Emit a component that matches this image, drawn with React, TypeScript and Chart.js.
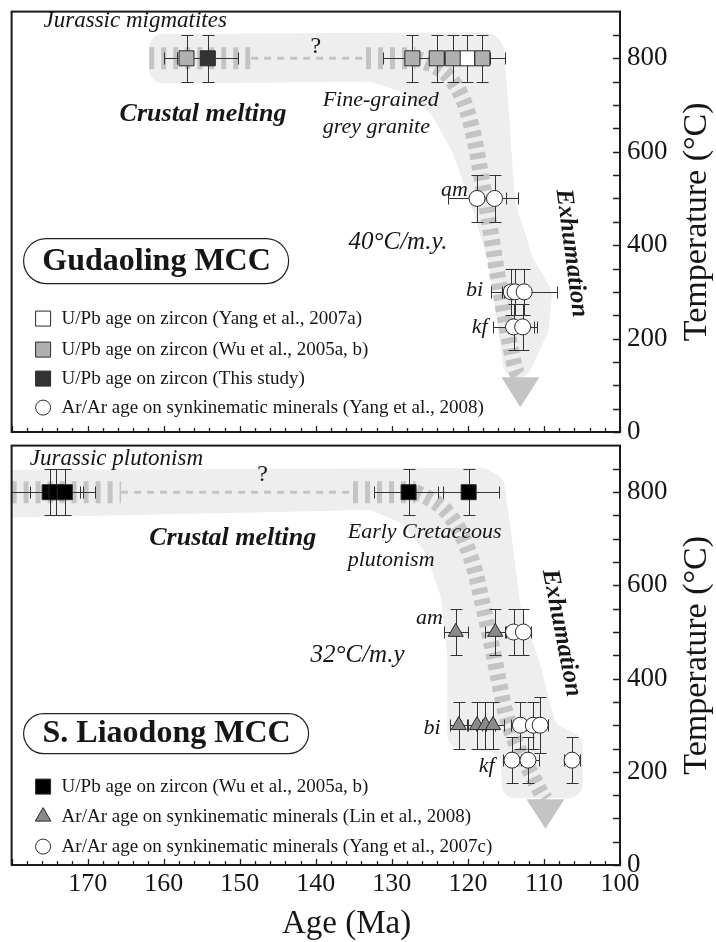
import React, { useEffect, useRef } from 'react';
import { Chart, registerables } from 'chart.js';

Chart.register(...registerables);

const SERIF = '"Liberation Serif", "Times New Roman", Times, serif';
const INK = '#161616';
const BAND = '#eeeeee';
const DASH = '#c4c4c4';
const EDGE = '#2a2a2a';

// ---------------- shared axes ----------------
const AGE_MIN = 100;
const AGE_MAX = 180;
const TEMP_MIN = 0;
const TEMP_MAX = 900;
const ageTickLabels = [170, 160, 150, 140, 130, 120, 110, 100];
const tempTickLabels = [0, 200, 400, 600, 800];
const ageTitle = 'Age (Ma)';
const tempTitle = 'Temperature (°C)';

// ---------------- Gudaoling MCC ----------------
const gudWuZrAge = [157.0, 127.3, 124.1, 122.0, 118.1];
const gudWuZrAgeErr = [3, 3.8, 3, 3, 3];
const gudWuZrTemp = [800, 800, 800, 800, 800];
const gudWuZrTempErr = [50, 50, 50, 50, 50];

const gudYangZrAge = [120.1];
const gudYangZrAgeErr = [3];
const gudYangZrTemp = [800];
const gudYangZrTempErr = [50];

const gudThisZrAge = [154.2];
const gudThisZrAgeErr = [4];
const gudThisZrTemp = [800];
const gudThisZrTempErr = [50];

const gudArAge = [118.8, 116.5, 114.3, 113.8, 112.6, 114.0, 112.8];
const gudArAgeErr = [3.8, 3.1, 1.2, 1.5, 4.3, 2.7, 1.9];
const gudArTemp = [500, 500, 300, 300, 300, 225, 225];
const gudArTempErr = [50, 50, 50, 50, 50, 50, 50];

// shaded P-T-t envelope and dashed cooling path (age, temperature)
const gudBandAge = [161.9, 117.0, 115.3, 114.7, 113.8, 111.5, 108.9, 109.4, 112.1, 115.1, 116.0, 117.3, 119.7, 122.0, 124.9, 128.9, 132.8, 161.9];
const gudBandTemp = [852, 856, 831, 704, 492, 375, 301, 216, 121, 110, 216, 365, 492, 598, 683, 729, 750, 746];
const gudThickAge = [161.9, 148.5];
const gudThickTemp = [800, 800];
const gudThinAge = [148.5, 133.4];
const gudThinTemp = [800, 800];
const gudFlatAge = [133.4, 126.9];
const gudFlatTemp = [800, 800];
const gudDescAge = [126.9, 123.9, 121.6, 120.1, 119.0, 118.1, 117.0, 116.0, 114.8, 113.8, 113.1];
const gudDescTemp = [800, 784, 746, 693, 619, 534, 428, 322, 216, 131, 117];
const gudArrowAge = [113.1, 113.1];
const gudArrowTemp = [117, 53];

// ---------------- S. Liaodong MCC ----------------
const liaWuZrAge = [175.0, 174.1, 173.0, 127.8, 119.9];
const liaWuZrAgeErr = [6, 3.5, 2, 4.5, 4];
const liaWuZrTemp = [800, 800, 800, 800, 800];
const liaWuZrTempErr = [50, 50, 50, 50, 50];

const liaLinArAge = [121.6, 116.4, 121.2, 118.8, 117.7, 116.7];
const liaLinArAgeErr = [1.6, 1.3, 1.1, 1.2, 1.2, 1.4];
const liaLinArTemp = [500, 500, 300, 300, 300, 300];
const liaLinArTempErr = [50, 50, 50, 50, 50, 50];

const liaYangArAge = [114.0, 112.7, 113.1, 111.4, 110.5, 114.2, 112.1, 106.3];
const liaYangArAgeErr = [1.0, 1.0, 1.2, 1.0, 1.0, 1.2, 1.5, 1.1];
const liaYangArTemp = [500, 500, 300, 300, 300, 225, 225, 225];
const liaYangArTempErr = [50, 50, 50, 50, 60, 50, 50, 50];

const liaBandAge = [181, 117.7, 115.3, 114.4, 113.1, 110.5, 108.5, 104.9, 104.9, 115.5, 115.7, 122.7, 122.7, 123.6, 125.6, 128.9, 132.8, 181];
const liaBandTemp = [848, 852, 829, 724, 557, 431, 304, 273, 143, 143, 241, 252, 451, 577, 672, 735, 762, 745];
const liaThickAge = [180, 165.6];
const liaThickTemp = [800, 800];
const liaThinAge = [165.6, 135.1];
const liaThinTemp = [800, 800];
const liaFlatAge = [135.1, 126.9];
const liaFlatTemp = [800, 800];
const liaDescAge = [126.9, 124.3, 122.0, 120.3, 119.0, 118.0, 117.0, 116.1, 115.1, 113.8, 112.1, 110.5, 109.8];
const liaDescTemp = [800, 783, 745, 693, 630, 556, 483, 409, 325, 262, 210, 157, 141];
const liaArrowAge = [109.8, 109.8];
const liaArrowTemp = [141, 78];

// ---------------- helpers ----------------
const font = (style: string, size: number) => `${style} ${size}px ${SERIF}`;

function drawMarker(ctx: any, shape: string, x: number, y: number, r: number, fill: string) {
  ctx.beginPath();
  if (shape === 'rect') {
    const s = r * Math.SQRT1_2;
    ctx.rect(x - s, y - s, 2 * s, 2 * s);
  } else if (shape === 'triangle') {
    ctx.moveTo(x, y - r);
    ctx.lineTo(x + 0.866 * r, y + 0.5 * r);
    ctx.lineTo(x - 0.866 * r, y + 0.5 * r);
    ctx.closePath();
  } else {
    ctx.arc(x, y, r, 0, Math.PI * 2);
  }
  ctx.fillStyle = fill;
  ctx.fill();
  ctx.lineWidth = 1;
  ctx.strokeStyle = EDGE;
  ctx.stroke();
}

function roundedPolygon(ctx: any, xs: number[], ys: number[], r: number) {
  const n = xs.length;
  const mx = (i: number, j: number) => (xs[i] + xs[j]) / 2;
  const my = (i: number, j: number) => (ys[i] + ys[j]) / 2;
  ctx.beginPath();
  ctx.moveTo(mx(n - 1, 0), my(n - 1, 0));
  for (let i = 0; i < n; i++) {
    const j = (i + 1) % n;
    ctx.arcTo(xs[i], ys[i], mx(i, j), my(i, j), r);
  }
  ctx.closePath();
}

function strokePath(ctx: any, xs: number[], ys: number[], smooth: boolean) {
  const n = xs.length;
  ctx.beginPath();
  ctx.moveTo(xs[0], ys[0]);
  if (!smooth || n < 3) {
    for (let i = 1; i < n; i++) ctx.lineTo(xs[i], ys[i]);
  } else {
    for (let i = 1; i < n - 1; i++) {
      ctx.quadraticCurveTo(xs[i], ys[i], (xs[i] + xs[i + 1]) / 2, (ys[i] + ys[i + 1]) / 2);
    }
    ctx.lineTo(xs[n - 1], ys[n - 1]);
  }
  ctx.stroke();
}

type Series = {
  label: string;
  shape: string;
  radius: number;
  fill: string;
  age: number[];
  ageErr: number[];
  temp: number[];
  tempErr: number[];
};

type TextItem = { text: string; age: number; temp: number; style: string; size: number; align: string; rot?: number };

const gudPanel = {
  name: 'Gudaoling MCC',
  series: [
    { label: 'U/Pb age on zircon (Wu et al., 2005a, b)', shape: 'rect', radius: 10.6, fill: '#b0b0b0', age: gudWuZrAge, ageErr: gudWuZrAgeErr, temp: gudWuZrTemp, tempErr: gudWuZrTempErr },
    { label: 'U/Pb age on zircon (Yang et al., 2007a)', shape: 'rect', radius: 10.6, fill: '#ffffff', age: gudYangZrAge, ageErr: gudYangZrAgeErr, temp: gudYangZrTemp, tempErr: gudYangZrTempErr },
    { label: 'U/Pb age on zircon (This study)', shape: 'rect', radius: 10.6, fill: '#333333', age: gudThisZrAge, ageErr: gudThisZrAgeErr, temp: gudThisZrTemp, tempErr: gudThisZrTempErr },
    { label: 'Ar/Ar age on synkinematic minerals (Yang et al., 2008)', shape: 'circle', radius: 8, fill: '#ffffff', age: gudArAge, ageErr: gudArAgeErr, temp: gudArTemp, tempErr: gudArTempErr },
  ] as Series[],
  legendOrder: [1, 0, 2, 3],
  band: [gudBandAge, gudBandTemp],
  thick: [gudThickAge, gudThickTemp],
  thin: [gudThinAge, gudThinTemp],
  flat: [gudFlatAge, gudFlatTemp],
  desc: [gudDescAge, gudDescTemp],
  arrow: [gudArrowAge, gudArrowTemp],
  texts: [
    { text: 'Jurassic migmatites', age: 175.8, temp: 880, style: 'italic', size: 23, align: 'left' },
    { text: '?', age: 140.0, temp: 825, style: '', size: 24, align: 'center' },
    { text: 'Crustal melting', age: 165.8, temp: 681, style: 'italic bold', size: 26, align: 'left' },
    { text: 'Fine-grained', age: 139.1, temp: 711, style: 'italic', size: 22, align: 'left' },
    { text: 'grey granite', age: 139.1, temp: 652, style: 'italic', size: 22, align: 'left' },
    { text: 'am', age: 120.0, temp: 518, style: 'italic', size: 22, align: 'right' },
    { text: 'bi', age: 118.0, temp: 303, style: 'italic', size: 22, align: 'right' },
    { text: 'kf', age: 117.4, temp: 224, style: 'italic', size: 22, align: 'right' },
    { text: '40°C/m.y.', age: 135.7, temp: 406, style: 'italic', size: 25, align: 'left' },
    { text: 'Exhumation', age: 106.4, temp: 383, style: 'italic bold', size: 25, align: 'center', rot: 82.5 },
  ] as TextItem[],
  pill: { dx: 12, dy: 227, w: 265, h: 45, tx: 145, ty: 250 },
  legendRows: [307, 338, 367, 396],
  padTop: 8,
  padBottom: 18,
  xAxisH: 0,
  showAge: false,
};

const liaPanel = {
  name: 'S. Liaodong MCC',
  series: [
    { label: 'U/Pb age on zircon (Wu et al., 2005a, b)', shape: 'rect', radius: 10.6, fill: '#000000', age: liaWuZrAge, ageErr: liaWuZrAgeErr, temp: liaWuZrTemp, tempErr: liaWuZrTempErr },
    { label: 'Ar/Ar age on synkinematic minerals (Lin et al., 2008)', shape: 'triangle', radius: 8.7, fill: '#8a8a8a', age: liaLinArAge, ageErr: liaLinArAgeErr, temp: liaLinArTemp, tempErr: liaLinArTempErr },
    { label: 'Ar/Ar age on synkinematic minerals (Yang et al., 2007c)', shape: 'circle', radius: 8, fill: '#ffffff', age: liaYangArAge, ageErr: liaYangArAgeErr, temp: liaYangArTemp, tempErr: liaYangArTempErr },
  ] as Series[],
  legendOrder: [0, 1, 2],
  band: [liaBandAge, liaBandTemp],
  thick: [liaThickAge, liaThickTemp],
  thin: [liaThinAge, liaThinTemp],
  flat: [liaFlatAge, liaFlatTemp],
  desc: [liaDescAge, liaDescTemp],
  arrow: [liaArrowAge, liaArrowTemp],
  texts: [
    { text: 'Jurassic plutonism', age: 177.6, temp: 871, style: 'italic', size: 23, align: 'left' },
    { text: '?', age: 147.0, temp: 838, style: '', size: 24, align: 'center' },
    { text: 'Crustal melting', age: 161.9, temp: 701, style: 'italic bold', size: 26, align: 'left' },
    { text: 'Early Cretaceous', age: 135.8, temp: 714, style: 'italic', size: 22, align: 'left' },
    { text: 'plutonism', age: 135.8, temp: 655, style: 'italic', size: 22, align: 'left' },
    { text: 'am', age: 123.3, temp: 529, style: 'italic', size: 22, align: 'right' },
    { text: 'bi', age: 123.6, temp: 294, style: 'italic', size: 22, align: 'right' },
    { text: 'kf', age: 116.5, temp: 212, style: 'italic', size: 22, align: 'right' },
    { text: '32°C/m.y', age: 140.7, temp: 449, style: 'italic', size: 25, align: 'left' },
    { text: 'Exhumation', age: 107.7, temp: 498, style: 'italic bold', size: 25, align: 'center', rot: 79 },
  ] as TextItem[],
  pill: { dx: 12, dy: 268, w: 285, h: 40, tx: 155, ty: 288 },
  legendRows: [341, 371, 401],
  padTop: 3,
  padBottom: 0,
  xAxisH: 77,
  showAge: true,
};

function makeDecor(p: any) {
  return {
    id: 'mccDecor',
    beforeDatasetsDraw(chart: any) {
      const { ctx, chartArea: ca } = chart;
      const sx = chart.scales.x;
      const sy = chart.scales.y;
      const X = (v: number) => sx.getPixelForValue(v);
      const Y = (v: number) => sy.getPixelForValue(v);
      ctx.save();
      ctx.beginPath();
      ctx.rect(ca.left, ca.top, ca.right - ca.left, ca.bottom - ca.top);
      ctx.clip();

      // shaded envelope
      roundedPolygon(ctx, p.band[0].map(X), p.band[1].map(Y), 14);
      ctx.fillStyle = BAND;
      ctx.fill();

      // dashed cooling path
      ctx.strokeStyle = DASH;
      ctx.lineCap = 'butt';
      ctx.lineJoin = 'round';
      ctx.lineWidth = 22;
      ctx.setLineDash([5, 7]);
      strokePath(ctx, p.thick[0].map(X), p.thick[1].map(Y), false);
      strokePath(ctx, p.flat[0].map(X), p.flat[1].map(Y), false);
      ctx.lineWidth = 16;
      ctx.setLineDash([6, 5]);
      strokePath(ctx, p.desc[0].map(X), p.desc[1].map(Y), true);
      ctx.lineWidth = 3;
      ctx.setLineDash([7, 6]);
      strokePath(ctx, p.thin[0].map(X), p.thin[1].map(Y), false);
      ctx.setLineDash([]);

      // arrow head
      const bx = X(p.arrow[0][0]);
      const by = Y(p.arrow[1][0]);
      const tx = X(p.arrow[0][1]);
      const ty = Y(p.arrow[1][1]);
      const len = Math.hypot(tx - bx, ty - by) || 1;
      const nx = -(ty - by) / len;
      const ny = (tx - bx) / len;
      ctx.beginPath();
      ctx.moveTo(bx + nx * 19, by + ny * 19);
      ctx.lineTo(bx - nx * 19, by - ny * 19);
      ctx.lineTo(tx, ty);
      ctx.closePath();
      ctx.fillStyle = DASH;
      ctx.fill();

      // error bars
      ctx.strokeStyle = '#333333';
      ctx.lineWidth = 1;
      const cap = 6;
      p.series.forEach((s: Series) => {
        s.age.forEach((a, i) => {
          const x = Math.round(X(a)) + 0.5;
          const y = Math.round(Y(s.temp[i])) + 0.5;
          const xl = Math.round(X(a + s.ageErr[i])) + 0.5;
          const xr = Math.round(X(a - s.ageErr[i])) + 0.5;
          const yt = Math.round(Y(s.temp[i] + s.tempErr[i])) + 0.5;
          const yb = Math.round(Y(s.temp[i] - s.tempErr[i])) + 0.5;
          ctx.beginPath();
          ctx.moveTo(xl, y); ctx.lineTo(xr, y);
          ctx.moveTo(xl, y - cap); ctx.lineTo(xl, y + cap);
          ctx.moveTo(xr, y - cap); ctx.lineTo(xr, y + cap);
          ctx.moveTo(x, yt); ctx.lineTo(x, yb);
          ctx.moveTo(x - cap, yt); ctx.lineTo(x + cap, yt);
          ctx.moveTo(x - cap, yb); ctx.lineTo(x + cap, yb);
          ctx.stroke();
        });
      });
      ctx.restore();
    },
    afterDatasetsDraw(chart: any) {
      const { ctx, chartArea: ca } = chart;
      const sx = chart.scales.x;
      const sy = chart.scales.y;
      const X = (v: number) => sx.getPixelForValue(v);
      const Y = (v: number) => sy.getPixelForValue(v);
      ctx.save();
      ctx.fillStyle = INK;
      ctx.textBaseline = 'middle';
      p.texts.forEach((t: TextItem) => {
        ctx.save();
        ctx.font = font(t.style, t.size);
        ctx.textAlign = t.align;
        ctx.translate(X(t.age), Y(t.temp));
        if (t.rot) ctx.rotate((t.rot * Math.PI) / 180);
        ctx.fillText(t.text, 0, 0);
        ctx.restore();
      });

      // name pill
      const pl = p.pill;
      const px = ca.left + pl.dx;
      const py = ca.top + pl.dy;
      const r = pl.h / 2;
      ctx.beginPath();
      ctx.moveTo(px + r, py);
      ctx.lineTo(px + pl.w - r, py);
      ctx.arc(px + pl.w - r, py + r, r, -Math.PI / 2, Math.PI / 2);
      ctx.lineTo(px + r, py + pl.h);
      ctx.arc(px + r, py + r, r, Math.PI / 2, (3 * Math.PI) / 2);
      ctx.closePath();
      ctx.fillStyle = '#ffffff';
      ctx.fill();
      ctx.lineWidth = 1.2;
      ctx.strokeStyle = '#222222';
      ctx.stroke();
      ctx.fillStyle = INK;
      ctx.font = font('bold', 32);
      ctx.textAlign = 'center';
      ctx.fillText(p.name, ca.left + pl.tx, ca.top + pl.ty);

      // legend
      ctx.font = font('', 19);
      ctx.textAlign = 'left';
      p.legendOrder.forEach((si: number, row: number) => {
        const s: Series = p.series[si];
        const y = ca.top + p.legendRows[row];
        const r0 = s.shape === 'rect' ? 10.6 : s.shape === 'triangle' ? 9 : 7.5;
        drawMarker(ctx, s.shape, ca.left + 31.5, y, r0, s.fill);
        ctx.fillStyle = INK;
        ctx.fillText(s.label, ca.left + 50, y);
      });
      ctx.restore();
    },
    afterDraw(chart: any) {
      const { ctx, chartArea: ca } = chart;
      const sx = chart.scales.x;
      const sy = chart.scales.y;
      ctx.save();
      // ticks (inward)
      ctx.strokeStyle = '#222222';
      ctx.lineWidth = 1.3;
      ctx.beginPath();
      for (let v = AGE_MIN; v <= AGE_MAX; v += 2) {
        const x = Math.round(sx.getPixelForValue(v)) + 0.5;
        const l = v % 10 === 0 ? 6 : 4;
        ctx.moveTo(x, ca.bottom);
        ctx.lineTo(x, ca.bottom - l);
      }
      for (let v = TEMP_MIN; v < TEMP_MAX; v += 50) {
        const y = Math.round(sy.getPixelForValue(v)) + 0.5;
        ctx.moveTo(ca.right, y);
        ctx.lineTo(ca.right - 7, y);
      }
      ctx.stroke();
      // frame
      ctx.lineWidth = 2;
      ctx.strokeStyle = '#1a1a1a';
      ctx.strokeRect(ca.left, ca.top, ca.right - ca.left, ca.bottom - ca.top);
      // axis titles
      ctx.fillStyle = INK;
      ctx.textAlign = 'center';
      ctx.textBaseline = 'middle';
      ctx.font = font('', 34);
      ctx.save();
      ctx.translate(ca.right + 77, (ca.top + ca.bottom) / 2);
      ctx.rotate(-Math.PI / 2);
      ctx.fillText(tempTitle, 0, 0);
      ctx.restore();
      if (p.showAge) {
        ctx.font = font('', 33);
        ctx.fillText(ageTitle, ca.left + 335, ca.bottom + 59);
      }
      ctx.restore();
    },
  };
}

function buildConfig(p: any): any {
  return {
    type: 'scatter',
    data: {
      datasets: p.series.map((s: Series) => ({
        label: s.label,
        data: s.age.map((a, i) => ({ x: a, y: s.temp[i] })),
        pointStyle: s.shape,
        pointRadius: s.radius,
        pointHoverRadius: s.radius,
        pointBackgroundColor: s.fill,
        pointBorderColor: EDGE,
        pointBorderWidth: 1,
        showLine: false,
      })),
    },
    options: {
      responsive: false,
      maintainAspectRatio: false,
      animation: false,
      devicePixelRatio: 1,
      events: [],
      layout: { padding: { left: 10, right: 0, top: p.padTop, bottom: p.padBottom } },
      plugins: { legend: { display: false }, tooltip: { enabled: false }, title: { display: false } },
      scales: {
        x: {
          type: 'linear',
          position: 'bottom',
          min: AGE_MIN,
          max: AGE_MAX,
          reverse: true,
          grid: { display: false, drawTicks: false },
          border: { display: false },
          ticks: {
            display: p.showAge,
            stepSize: 2,
            autoSkip: false,
            maxRotation: 0,
            padding: 4,
            color: INK,
            font: { family: SERIF, size: 26 },
            callback: (v: number) => (ageTickLabels.includes(v) ? String(v) : ''),
          },
          afterFit: (s: any) => {
            s.height = p.xAxisH;
            s.paddingLeft = 0;
            s.paddingRight = 0;
            s.paddingTop = 0;
            s.paddingBottom = 0;
          },
        },
        y: {
          type: 'linear',
          position: 'right',
          min: TEMP_MIN,
          max: TEMP_MAX,
          grid: { display: false, drawTicks: false },
          border: { display: false },
          ticks: {
            stepSize: 50,
            autoSkip: false,
            padding: 7,
            color: INK,
            font: { family: SERIF, size: 27 },
            callback: (v: number) => (tempTickLabels.includes(v) ? String(v) : ''),
          },
          afterFit: (s: any) => {
            s.width = 96;
            s.paddingLeft = 0;
            s.paddingRight = 0;
            s.paddingTop = 0;
            s.paddingBottom = 0;
          },
        },
      },
    },
    plugins: [makeDecor(p)],
  };
}

function PanelChart({ panel, top, height }: { panel: any; top: number; height: number }) {
  const ref = useRef<HTMLCanvasElement>(null);
  useEffect(() => {
    if (!ref.current) return;
    const chart = new Chart(ref.current, buildConfig(panel));
    return () => chart.destroy();
  }, [panel]);
  return (
    <canvas
      ref={ref}
      width={716}
      height={height}
      style={{ position: 'absolute', left: 0, top, width: 716, height, display: 'block' }}
    />
  );
}

export default function App() {
  return (
    <div style={{ position: 'absolute', left: 0, top: 0, width: 716, height: 942, background: '#ffffff', overflow: 'hidden' }}>
      <PanelChart panel={gudPanel} top={0} height={450} />
      <PanelChart panel={liaPanel} top={434} height={508} />
    </div>
  );
}
